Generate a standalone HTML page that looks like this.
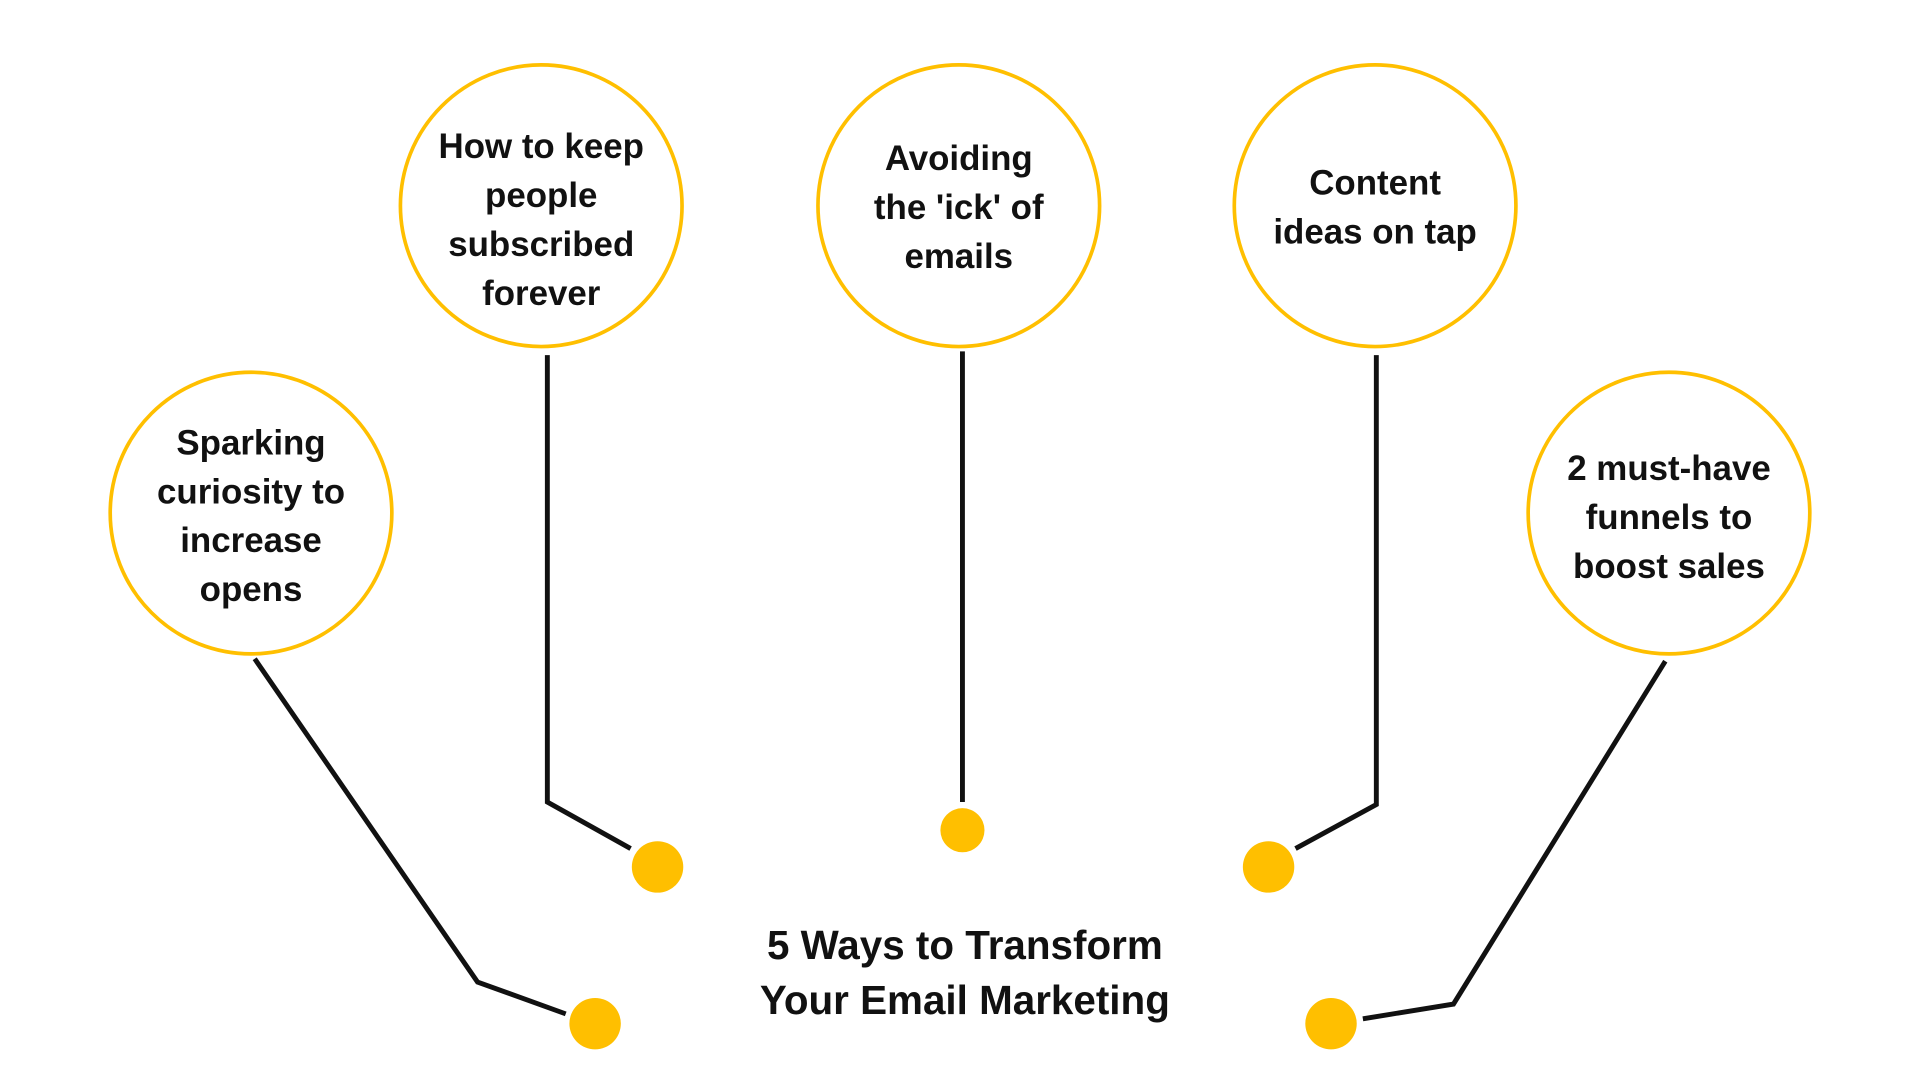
<!DOCTYPE html>
<html><head><meta charset="utf-8"><style>
html,body{margin:0;padding:0;background:#fff;width:1920px;height:1080px;overflow:hidden}
svg{display:block}
text{font-family:"Liberation Sans",sans-serif;font-weight:bold;fill:#111;text-anchor:middle}
</style></head><body>
<svg width="1920" height="1080" viewBox="0 0 1568 882" preserveAspectRatio="none">
<g fill="none" stroke="#FFBF00" stroke-width="3">
<circle cx="442" cy="168" r="115"/>
<circle cx="783" cy="168" r="115"/>
<circle cx="1123" cy="168" r="115"/>
<circle cx="205" cy="419" r="115"/>
<circle cx="1363" cy="419" r="115"/>
</g>
<g fill="none" stroke="#111" stroke-width="4">
<polyline points="447,290 447,655 515,693"/>
<polyline points="786,287 786,655"/>
<polyline points="1124,290 1124,657 1058,693"/>
<polyline points="208,538 390,802 462,828"/>
<polyline points="1360,540 1187,820 1113,832"/>
</g>
<g fill="#FFBF00">
<circle cx="537" cy="708" r="21"/>
<circle cx="786" cy="678" r="18"/>
<circle cx="1036" cy="708" r="21"/>
<circle cx="486" cy="836" r="21"/>
<circle cx="1087" cy="836" r="21"/>
</g>
<g font-size="28.5">
<text x="442" y="129">How to keep</text>
<text x="442" y="169">people</text>
<text x="442" y="209">subscribed</text>
<text x="442" y="249">forever</text>
<text x="783" y="139">Avoiding</text>
<text x="783" y="179">the 'ick' of</text>
<text x="783" y="219">emails</text>
<text x="1123" y="159">Content</text>
<text x="1123" y="199">ideas on tap</text>
<text x="205" y="371">Sparking</text>
<text x="205" y="411">curiosity to</text>
<text x="205" y="451">increase</text>
<text x="205" y="491">opens</text>
<text x="1363" y="392">2 must-have</text>
<text x="1363" y="432">funnels to</text>
<text x="1363" y="472">boost sales</text>
</g>
<g font-size="33">
<text x="788" y="783">5 Ways to Transform</text>
<text x="788" y="828">Your Email Marketing</text>
</g>
</svg>
</body></html>
